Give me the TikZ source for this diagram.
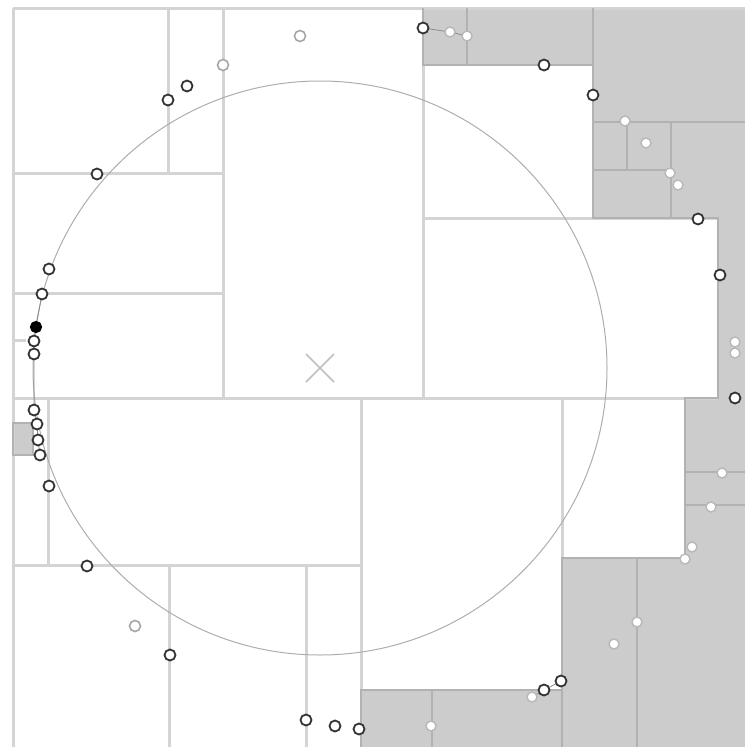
\documentclass[tikz,border=0pt]{standalone}
\begin{document}
\begin{tikzpicture}[x=1pt,y=-1pt,
  lite/.style={draw=black!17,line width=3pt},
  dark/.style={draw=black!30,line width=2.4pt},
  grayfill/.style={fill=black!20},
  pt/.style={circle,draw=black!80,fill=white,line width=1.8pt,inner sep=0pt,minimum size=11pt},
  ptl/.style={circle,draw=black!35,fill=white,line width=1.6pt,inner sep=0pt,minimum size=11pt},
  ptw/.style={circle,draw=black!28,fill=white,line width=1.4pt,inner sep=0pt,minimum size=10pt},
  ptb/.style={circle,draw=black,fill=black,line width=1.2pt,inner sep=0pt,minimum size=11pt},
  chain/.style={draw=black!45,line width=0.8pt}]
\useasboundingbox (0,0) rectangle (745,747);
% gray cells
\fill[grayfill] (423,8) rectangle (593,65);
\fill[grayfill] (593,8) rectangle (745,218);
\fill[grayfill] (718,218) rectangle (745,398);
\fill[grayfill] (685,398) rectangle (745,558);
\fill[grayfill] (562,558) rectangle (745,747);
\fill[grayfill] (361,690) rectangle (562,747);
\fill[grayfill] (13,423) rectangle (33,455);
% light dividers
\draw[lite] (13,8) -- (745,8);
\draw[lite] (13,8) -- (13,747);
\draw[lite] (13,398) -- (718,398);
\draw[lite] (223,8) -- (223,398);
\draw[lite] (423,65) -- (423,398);
\draw[lite] (13,173) -- (223,173);
\draw[lite] (168,8) -- (168,173);
\draw[lite] (13,293) -- (223,293);
\draw[lite] (13,340) -- (26,340);
\draw[lite] (423,218) -- (718,218);
\draw[lite] (361,398) -- (361,690);
\draw[lite] (48,398) -- (48,565);
\draw[lite] (13,565) -- (361,565);
\draw[lite] (169,565) -- (169,747);
\draw[lite] (306,565) -- (306,747);
\draw[lite] (562,398) -- (562,558);
% dark dividers
\draw[dark] (423,8) -- (423,65) -- (593,65);
\draw[dark] (467,8) -- (467,65);
\draw[dark] (593,8) -- (593,218) -- (718,218) -- (718,398) -- (685,398) -- (685,558) -- (562,558) -- (562,690) -- (361,690) -- (361,747);
\draw[dark] (593,122) -- (745,122);
\draw[dark] (627,122) -- (627,170);
\draw[dark] (593,170) -- (671,170);
\draw[dark] (671,122) -- (671,218);
\draw[dark] (685,472) -- (745,472);
\draw[dark] (685,505) -- (745,505);
\draw[dark] (562,558) -- (562,747);
\draw[dark] (637,558) -- (637,747);
\draw[dark] (432,690) -- (432,747);
\draw[dark] (13,423) rectangle (33,455);
% query circle and centre
\draw[black!32,line width=1pt] (320,368) circle (287);
\coordinate (q) at (320,368);
\draw[black!25,line width=1.6pt] ([shift={(-14,-14)}]q) -- ([shift={(14,14)}]q) ([shift={(-14,14)}]q) -- ([shift={(14,-14)}]q);
% chains
\coordinate (c1) at (42,294);
\coordinate (c2) at (36,327);
\coordinate (c3) at (34,341);
\coordinate (c4) at (34,354);
\coordinate (c5) at (34,410);
\coordinate (c6) at (37,424);
\coordinate (c7) at (38,440);
\coordinate (c8) at (40,455);
\draw[chain] (c1) -- (c2) -- (c3) -- (c4) -- (c5) -- (c6) -- (c7) -- (c8);
\coordinate (t1) at (423,28);
\coordinate (t2) at (450,32);
\coordinate (t3) at (467,36);
\draw[chain] (t1) -- (t2) -- (t3);
\coordinate (b1) at (532,697);
\coordinate (b2) at (544,690);
\coordinate (b3) at (561,681);
\draw[chain] (b1) -- (b2) -- (b3);
% points on white
\node[pt] (p1) at (168,100) {};
\node[pt] (p2) at (187,86) {};
\node[pt] (p3) at (97,174) {};
\node[ptl] (p4) at (223,65) {};
\node[ptl] (p5) at (300,36) {};
\node[pt] (p6) at (t1) {};
\node[pt] (p7) at (49,269) {};
\node[pt] (p8) at (c1) {};
\node[ptb] (p9) at (c2) {};
\node[pt] (p10) at (c3) {};
\node[pt] (p11) at (c4) {};
\node[pt] (p12) at (c5) {};
\node[pt] (p13) at (c6) {};
\node[pt] (p14) at (c7) {};
\node[pt] (p15) at (c8) {};
\node[pt] (p16) at (49,486) {};
\node[pt] (p17) at (87,566) {};
\node[ptl] (p18) at (135,626) {};
\node[pt] (p19) at (170,655) {};
\node[pt] (p20) at (306,720) {};
\node[pt] (p21) at (335,726) {};
\node[pt] (p22) at (359,729) {};
\node[pt] (p23) at (544,65) {};
\node[pt] (p24) at (593,95) {};
\node[pt] (p25) at (698,219) {};
\node[pt] (p26) at (720,275) {};
\node[pt] (p27) at (735,398) {};
\node[pt] (p28) at (b3) {};
\node[pt] (p29) at (b2) {};
% points on gray
\node[ptw] (g1) at (t2) {};
\node[ptw] (g2) at (t3) {};
\node[ptw] (g3) at (625,121) {};
\node[ptw] (g4) at (646,143) {};
\node[ptw] (g5) at (670,173) {};
\node[ptw] (g6) at (678,185) {};
\node[ptw] (g7) at (735,342) {};
\node[ptw] (g8) at (735,353) {};
\node[ptw] (g9) at (722,473) {};
\node[ptw] (g10) at (711,507) {};
\node[ptw] (g11) at (692,547) {};
\node[ptw] (g12) at (685,559) {};
\node[ptw] (g13) at (637,622) {};
\node[ptw] (g14) at (614,644) {};
\node[ptw] (g15) at (b1) {};
\node[ptw] (g16) at (431,726) {};
\end{tikzpicture}
\end{document}
